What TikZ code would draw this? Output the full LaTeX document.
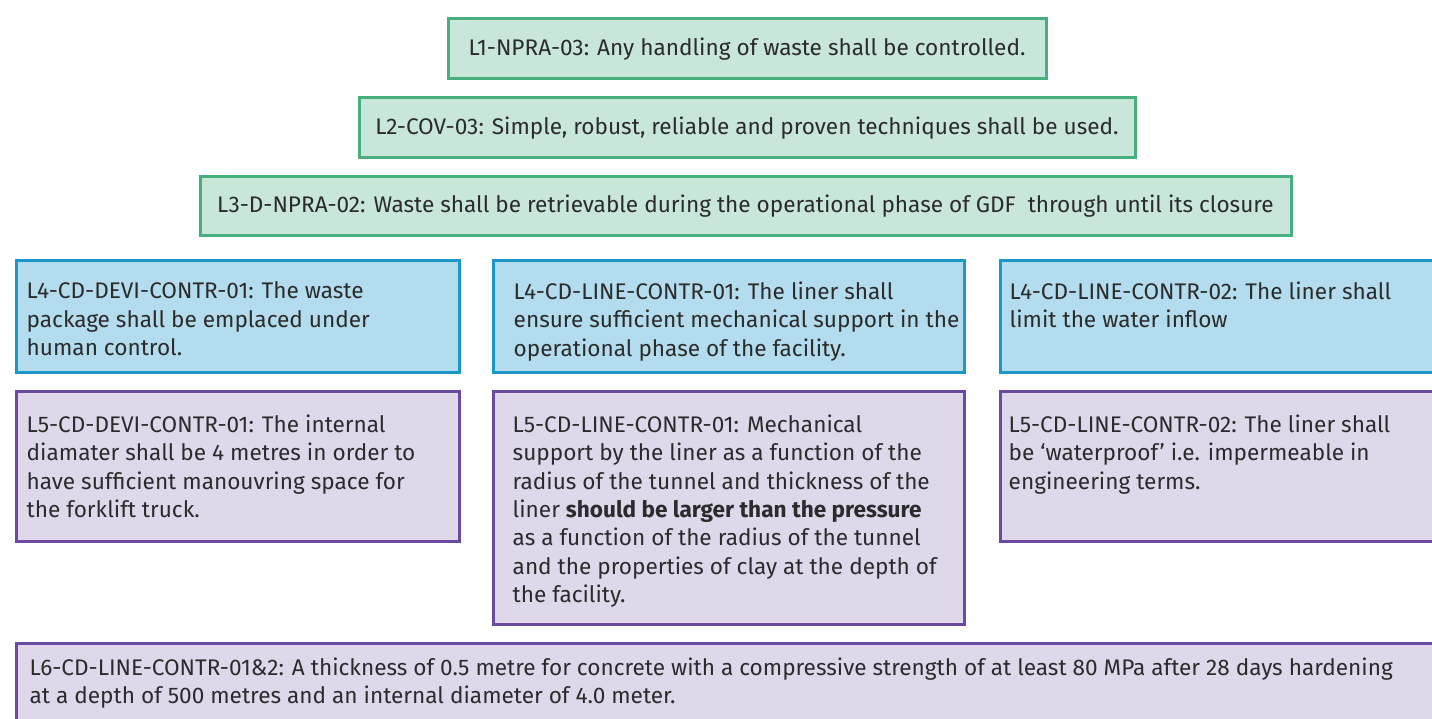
\documentclass[tikz,border=0pt]{standalone}
\usepackage{fontspec}
\setmainfont{Fira Sans}
\usetikzlibrary{positioning,calc}
\definecolor{grnfill}{HTML}{C8E6DA}
\definecolor{grnline}{HTML}{47AF7E}
\definecolor{blufill}{HTML}{B3DDEE}
\definecolor{bluline}{HTML}{1B98C9}
\definecolor{purfill}{HTML}{DFD8EB}
\definecolor{purline}{HTML}{6B4BA1}
\definecolor{reqtext}{HTML}{2B2B2B}

\begin{document}
\begin{tikzpicture}[x=1pt,y=-1pt,
    reqbox/.style={rectangle,draw,line width=3pt,inner sep=0pt,anchor=north west,
                   text=reqtext,font=\fontsize{22.6}{28.4}\selectfont},
    grnbox/.style={reqbox,fill=grnfill,draw=grnline},
    blubox/.style={reqbox,fill=blufill,draw=bluline},
    purbox/.style={reqbox,fill=purfill,draw=purline},
    reqtxt/.style={inner sep=0pt,anchor=north west,align=left,text=reqtext,
                   font=\fontsize{22.6}{28.4}\selectfont}]
\useasboundingbox (0,0) rectangle (1432,719);

% levels 1 to 3
\node[grnbox,minimum width=598pt,minimum height=60pt] (l1) at (446.5,17.5)
    {L1-NPRA-03: Any handling of waste shall be controlled.};
\node[grnbox,minimum width=776pt,minimum height=60pt] (l2) at (357.5,96.5)
    {L2-COV-03: Simple, robust, reliable and proven techniques shall be used.};
\node[grnbox,minimum width=1091pt,minimum height=59pt] (l3) at (198.5,175.5)
    {L3-D-NPRA-02: Waste shall be retrievable during the operational phase of GDF\ \ through until its closure};

% level 4
\node[blubox,minimum width=443pt,minimum height=111pt] (l4devi) at (14.5,259.5) {};
\node[blubox,minimum width=471pt,minimum height=111pt] (l4line1) at (491.5,259.5) {};
\node[blubox,minimum width=450pt,minimum height=111pt] (l4line2) at (998.5,259.5) {};
\node[reqtxt] (t4devi) at ([shift={(12,22)}]l4devi.north west)
    {L4-CD-DEVI-CONTR-01: The waste\\package shall be emplaced under\\human control.};
\node[reqtxt] (t4line1) at ([shift={(22,22)}]l4line1.north west)
    {L4-CD-LINE-CONTR-01: The liner shall\\ensure sufficient mechanical support in the\\operational phase of the facility.};
\node[reqtxt] (t4line2) at ([shift={(11,22)}]l4line2.north west)
    {L4-CD-LINE-CONTR-02: The liner shall\\limit the water inflow};

% level 5
\node[purbox,minimum width=443pt,minimum height=150pt] (l5devi) at (14.5,389.5) {};
\node[purbox,minimum width=471pt,minimum height=233pt] (l5line1) at (491.5,389.5) {};
\node[purbox,minimum width=450pt,minimum height=150pt] (l5line2) at (998.5,389.5) {};
\node[reqtxt] (t5devi) at ([shift={(12,25)}]l5devi.north west)
    {L5-CD-DEVI-CONTR-01: The internal\\diamater shall be 4 metres in order to\\have sufficient manouvring space for\\the forklift truck.};
\node[reqtxt] (t5line1) at ([shift={(21,25)}]l5line1.north west)
    {L5-CD-LINE-CONTR-01: Mechanical\\support by the liner as a function of the\\radius of the tunnel and thickness of the\\liner \textbf{should be larger than the pressure}\\as a function of the radius of the tunnel\\and the properties of clay at the depth of\\the facility.};
\node[reqtxt] (t5line2) at ([shift={(10,25)}]l5line2.north west)
    {L5-CD-LINE-CONTR-02: The liner shall\\be ‘waterproof’ i.e. impermeable in\\engineering terms.};

% level 6
\node[purbox,minimum width=1430pt,minimum height=100pt] (l6) at (14.5,641.5) {};
\node[reqtxt] (t6) at ([shift={(15,16)}]l6.north west)
    {L6-CD-LINE-CONTR-01\&2: A thickness of 0.5 metre for concrete with a compressive strength of at least 80 MPa after 28 days hardening\\at a depth of 500 metres and an internal diameter of 4.0 meter.};
\end{tikzpicture}
\end{document}
